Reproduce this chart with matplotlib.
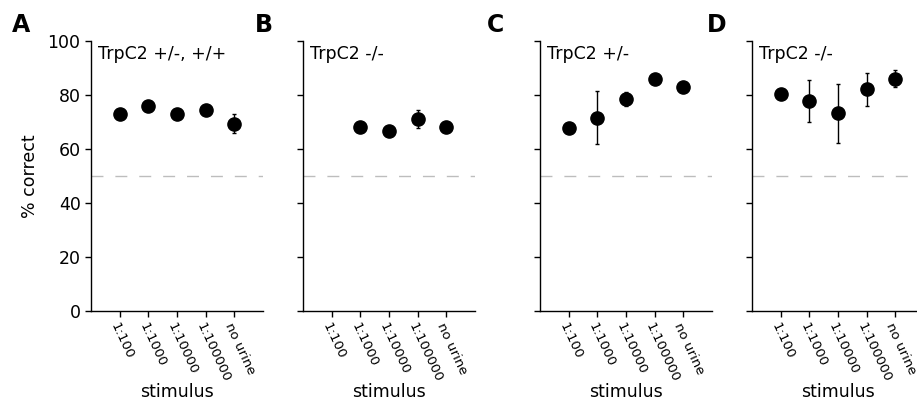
"""Percent correct by stimulus dilution, four genotype panels."""
import matplotlib
matplotlib.use("Agg")
import matplotlib.pyplot as plt
import numpy as np

STIMULI = ["1:100", "1:1000", "1:10000", "1:100000", "no urine"]
PANELS = ["A", "B", "C", "D"]
TITLES = ["TrpC2 +/-, +/+", "TrpC2 -/-", "TrpC2 +/-", "TrpC2 -/-"]

# mean % correct (nan = not tested)
mean_a = [73.0, 75.8, 73.0, 74.3, 69.4]
mean_b = [np.nan, 68.1, 66.8, 71.0, 68.1]
mean_c = [67.9, 71.6, 78.6, 85.9, 83.0]
mean_d = [80.2, 77.8, 73.2, 82.1, 86.0]

# s.e.m.
err_a = [1.0, 0.8, 0.8, 0.8, 3.4]
err_b = [np.nan, 0.8, 0.8, 3.4, 0.8]
err_c = [1.6, 9.8, 2.5, 0.8, 0.8]
err_d = [0.8, 7.9, 10.8, 6.2, 3.1]

MEANS = [mean_a, mean_b, mean_c, mean_d]
ERRS = [err_a, err_b, err_c, err_d]
CHANCE = 50

plt.rcParams["font.family"] = ["DejaVu Sans"]

fig = plt.figure(figsize=(9.17, 4.0), dpi=100)
lefts = [91, 303, 540, 752]       # axes left edges, px
label_x = [12, 255, 487, 707]     # panel letters, px
x = np.arange(len(STIMULI))

for i, (lbl, title, m, e) in enumerate(zip(PANELS, TITLES, MEANS, ERRS)):
    ax = fig.add_axes([lefts[i] / 917, 1 - 311 / 400, 172 / 917, 270 / 400])
    ax.axhline(CHANCE, color="#bdbdbd", lw=1.0, dashes=(8.6, 8.6), zorder=1)
    ax.errorbar(x, m, yerr=e, fmt="o", color="black", ms=9.5, elinewidth=1.0,
                capsize=1.5, capthick=1.0, zorder=3)
    ax.set_xlim(-1, 5)
    ax.set_ylim(0, 100)
    ax.set_yticks([0, 20, 40, 60, 80, 100])
    ax.set_xticks(x)
    ax.set_xticklabels(STIMULI, rotation=-65, ha="left", va="top",
                       rotation_mode="anchor", fontsize=9.6)
    for s in ["top", "right"]:
        ax.spines[s].set_visible(False)
    for s in ["left", "bottom"]:
        ax.spines[s].set_linewidth(1.0)
    ax.tick_params(direction="out", length=4, width=1.0, labelsize=12.5)
    ax.tick_params(axis="x", pad=3, labelsize=9.6)
    if i == 0:
        ax.set_ylabel("% correct", fontsize=12.5, labelpad=6)
    else:
        ax.set_yticklabels([])
    ax.set_xlabel("stimulus", fontsize=12.5)
    ax.xaxis.set_label_coords(0.5, -0.266)
    ax.text(0.04, 0.985, title, transform=ax.transAxes, fontsize=12.5,
            va="top", ha="left")
    fig.text(label_x[i] / 917, 1 - 25 / 400, lbl, fontsize=17,
             fontweight="bold", va="center", ha="left")

fig.savefig("out.png", dpi=100)
